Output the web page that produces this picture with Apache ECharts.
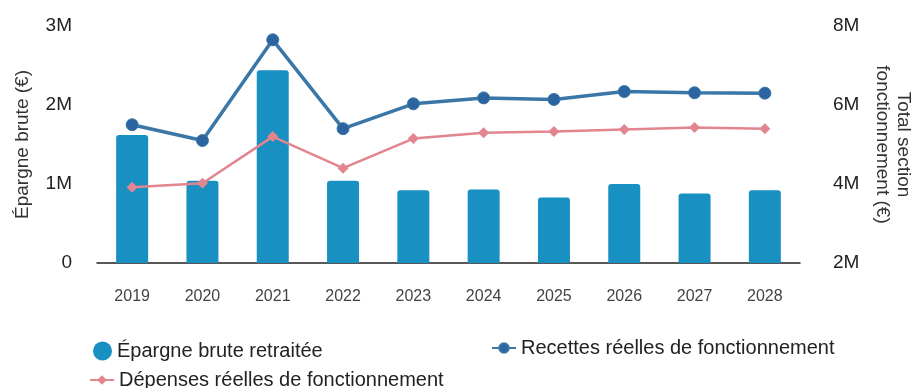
<!DOCTYPE html>
<html>
<head>
<meta charset="utf-8">
<script src="https://cdn.jsdelivr.net/npm/echarts@6/dist/echarts.min.js"></script>
<style>
  html, body { margin: 0; padding: 0; background: #fff; }
  #chart { width: 916px; height: 388px; }
</style>
</head>
<body>
<div id="chart"></div>
<script>
// Années affichées en abscisse
const years = ['2019', '2020', '2021', '2022', '2023', '2024', '2025', '2026', '2027', '2028'];

// Épargne brute retraitée (€) — axe gauche
const epargneBrute = [1620000, 1040000, 2440000, 1040000, 920000, 930000, 830000, 1000000, 880000, 920000];

// Recettes réelles de fonctionnement (€) — axe droit
const recettes = [5500000, 5100000, 7650000, 5400000, 6030000, 6180000, 6140000, 6340000, 6310000, 6300000];

// Dépenses réelles de fonctionnement (€) — axe droit
const depenses = [3920000, 4020000, 5200000, 4400000, 5150000, 5300000, 5330000, 5380000, 5430000, 5400000];

const FONT = '"Liberation Sans", Arial, sans-serif';
const COL_BAR = '#1890c2';
const COL_REC = '#3a76a6';
const COL_REC_MARK = '#2b64a0';
const COL_DEP = '#e2858f';

const fmtM = v => (v === 0 ? '0' : (v / 1e6) + 'M');

const chart = echarts.init(document.getElementById('chart'), null, { renderer: 'canvas' });

const legendText = { fontFamily: FONT, fontSize: 20, color: '#222' };

chart.setOption({
  animation: false,
  backgroundColor: '#fff',
  textStyle: { fontFamily: FONT },
  grid: { left: 97, right: 116, top: 26, bottom: 125, outerBoundsMode: 'none', containLabel: false },
  legend: [
    {
      data: [{ name: 'Épargne brute retraitée', icon: 'circle' }],
      left: 88, top: 336,
      itemWidth: 19, itemHeight: 19, itemGap: 10,
      textStyle: legendText
    },
    {
      data: ['Recettes réelles de fonctionnement'],
      left: 486, top: 333,
      itemWidth: 24, itemHeight: 12,
      textStyle: legendText
    },
    {
      data: ['Dépenses réelles de fonctionnement'],
      left: 84, top: 365,
      itemWidth: 24, itemHeight: 12,
      textStyle: legendText
    }
  ],
  xAxis: {
    type: 'category',
    data: years,
    axisLine: { lineStyle: { color: '#222', width: 1.5 } },
    axisTick: { show: false },
    axisLabel: { fontFamily: FONT, fontSize: 16, color: '#444', margin: 26 }
  },
  yAxis: [
    {
      type: 'value',
      min: 0, max: 3000000, interval: 1000000,
      name: 'Épargne brute (€)',
      nameLocation: 'middle',
      nameGap: 65,
      nameTextStyle: { fontFamily: FONT, fontSize: 19, color: '#333' },
      axisLine: { show: false },
      axisTick: { show: false },
      splitLine: { show: false },
      axisLabel: { formatter: fmtM, fontFamily: FONT, fontSize: 19, color: '#222', margin: 25 }
    },
    {
      type: 'value',
      min: 2000000, max: 8000000, interval: 2000000,
      name: 'Total section\nfonctionnement (€)',
      nameLocation: 'middle',
      nameRotate: -90,
      nameGap: 72,
      nameTextStyle: { fontFamily: FONT, fontSize: 19, color: '#333', lineHeight: 21 },
      axisLine: { show: false },
      axisTick: { show: false },
      splitLine: { show: false },
      axisLabel: { formatter: fmtM, fontFamily: FONT, fontSize: 19, color: '#222', margin: 33 }
    }
  ],
  series: [
    {
      name: 'Épargne brute retraitée',
      type: 'bar',
      yAxisIndex: 0,
      data: epargneBrute,
      barWidth: 32,
      itemStyle: { color: COL_BAR, borderRadius: [3, 3, 0, 0] },
      z: 2
    },
    {
      name: 'Recettes réelles de fonctionnement',
      type: 'line',
      yAxisIndex: 1,
      data: recettes,
      symbol: 'circle',
      symbolSize: 12,
      lineStyle: { color: COL_REC, width: 3.5 },
      itemStyle: { color: COL_REC_MARK, borderColor: COL_REC, borderWidth: 1 },
      z: 4
    },
    {
      name: 'Dépenses réelles de fonctionnement',
      type: 'line',
      yAxisIndex: 1,
      data: depenses,
      symbol: 'diamond',
      symbolSize: 11,
      lineStyle: { color: COL_DEP, width: 2.5 },
      itemStyle: { color: COL_DEP },
      z: 3
    }
  ]
});
</script>
</body>
</html>
